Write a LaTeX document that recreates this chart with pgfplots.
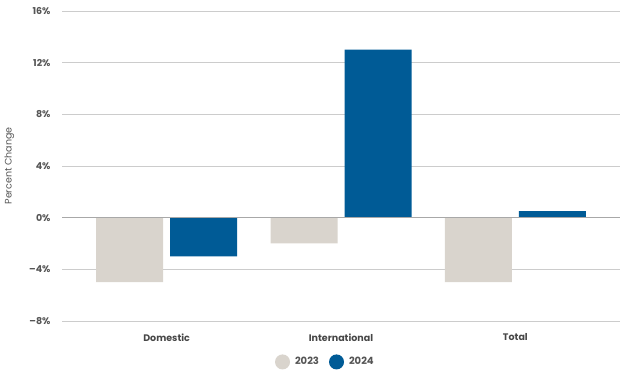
\documentclass[border=0pt]{standalone}
\usepackage{pgfplots}
\pgfplotsset{compat=1.18}
\usetikzlibrary{calc}
\usepackage{fontspec}
\setmainfont{Poppins}
\definecolor{c23}{HTML}{D9D4CD}
\definecolor{c24}{HTML}{005B96}
\definecolor{gridc}{HTML}{CCCCCC}
\definecolor{zeroc}{HTML}{A8A8A8}
\definecolor{txt}{HTML}{555555}
\begin{document}
\begin{tikzpicture}
\begin{axis}[
  scale only axis,
  width=558pt, height=310pt,
  xmin=-0.6, xmax=2.6,
  ymin=-8, ymax=16,
  ytick={-8,-4,0,4,8,12,16},
  yticklabels={\textendash8\%,\textendash4\%,0\%,4\%,8\%,12\%,16\%},
  xtick={0,1,2},
  xticklabels={Domestic,International,Total},
  ybar=7pt, bar width=67pt,
  ymajorgrids, grid style={gridc, line width=0.8pt},
  axis line style={draw=none},
  major tick style={draw=none},
  yticklabel style={font=\fontsize{9.5}{11}\selectfont\bfseries, text=txt, xshift=-8pt},
  xticklabel style={font=\fontsize{9.5}{11}\selectfont\bfseries, text=black!72, yshift=-5pt},
  ylabel={Percent Change},
  ylabel style={font=\fontsize{9.5}{11}\selectfont, text=txt, yshift=8pt},
  legend style={draw=none, at={(0.472,-0.132)}, anchor=center, legend columns=2,
    font=\fontsize{10}{11}\selectfont\bfseries, text=txt,
    /tikz/every odd column/.append style={column sep=3pt},
    /tikz/every even column/.append style={column sep=8pt}},
  legend image code/.code={\fill[#1] (0,0) circle (7.5pt);},
]
\addplot[draw=none, fill=c23] coordinates {(0,-5) (1,-2) (2,-5)};
\addplot[draw=none, fill=c24] coordinates {(0,-3) (1,13) (2,0.5)};
\legend{2023,2024}
\addplot[sharp plot, zeroc, line width=1pt, forget plot] coordinates {(-0.6,0) (2.6,0)};
\end{axis}
\path ($(current axis.south west)+(-62pt,-50pt)$) rectangle ($(current axis.north east)+(2pt,11pt)$);
\end{tikzpicture}
\end{document}
